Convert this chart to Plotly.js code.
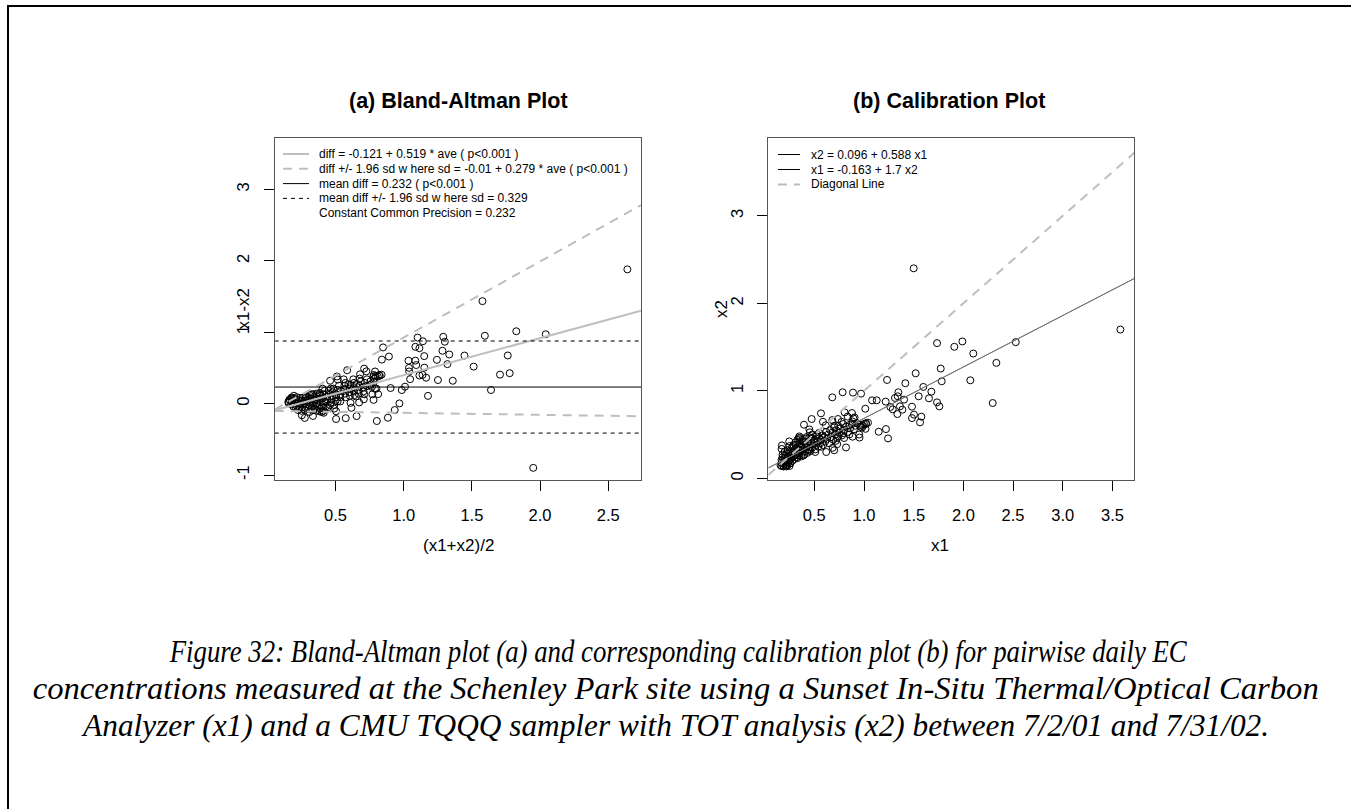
<!DOCTYPE html>
<html><head><meta charset="utf-8">
<script src="https://cdn.plot.ly/plotly-3.0.1.min.js"></script>
<style>body{margin:0;background:#fff}#chart{width:1351px;height:809px}</style>
</head><body><div id="chart"></div>
<script>
// ---- data: x1 (Sunset in-situ), x2 (CMU TQQQ) ----
const x1 = [
 3.58, 1.50, 1.735, 1.99, 1.909, 2.10, 2.527, 2.332, 2.295, 2.07,
 1.772, 1.782, 1.52, 1.232, 1.416, 1.597, 1.678, 1.55, 1.654, 1.735,
 1.758, 1.346, 1.339, 1.312, 1.403, 1.218, 1.265, 1.289, 1.362, 1.386,
 1.483, 1.336, 1.483, 1.503, 1.577, 1.564, 1.148, 1.221, 1.242, 1.081,
 1.128, 1.013, 0.970, 0.889, 0.785, 0.681, 1.040, 1.020, 0.990, 0.965,
 0.952, 0.805, 0.879, 0.893, 0.883, 0.819, 0.567, 0.473, 0.396, 0.450,
 0.587, 0.681, 0.738, 0.852, 0.792, 0.852, 0.913, 0.718, 0.685, 0.174,
 0.248, 0.16, 0.17, 0.17, 0.18, 0.18, 0.19, 0.19, 0.20, 0.20,
 0.21, 0.21, 0.22, 0.22, 0.23, 0.23, 0.24, 0.24, 0.25, 0.25,
 0.26, 0.26, 0.27, 0.27, 0.28, 0.28, 0.29, 0.29, 0.30, 0.30,
 0.31, 0.31, 0.32, 0.32, 0.33, 0.33, 0.34, 0.34, 0.35, 0.35,
 0.36, 0.36, 0.37, 0.37, 0.38, 0.38, 0.39, 0.40, 0.40, 0.41,
 0.41, 0.42, 0.43, 0.43, 0.44, 0.45, 0.45, 0.46, 0.47, 0.48,
 0.48, 0.49, 0.50, 0.51, 0.52, 0.52, 0.53, 0.54, 0.55, 0.55,
 0.56, 0.57, 0.58, 0.59, 0.60, 0.61, 0.62, 0.63, 0.64, 0.65,
 0.66, 0.67, 0.68, 0.69, 0.70, 0.71, 0.72, 0.73, 0.74, 0.75,
 0.76, 0.78, 0.79, 0.80, 0.82, 0.84, 0.86, 0.88, 0.90, 0.93,
 0.96, 0.98, 1.00, 1.02,
 0.171, 0.25, 0.352, 0.455, 0.342, 0.349, 0.20, 0.23, 0.28, 0.31,
 0.38, 0.42, 0.955, 1.015, 0.885, 0.70, 0.73, 0.62, 0.80, 0.74,
 0.775, 0.835, 0.905, 0.70, 0.615, 0.53, 0.47, 0.44, 0.36, 0.27,
 0.33, 0.39, 0.45, 0.51, 0.57, 0.22, 0.25, 0.19, 0.17, 0.21
];
const x2 = [
 1.70, 2.40, 1.545, 1.564, 1.503, 1.426, 1.556, 1.319, 0.860, 1.12,
 1.254, 1.109, 1.20, 1.124, 1.086, 1.044, 0.990, 0.937, 0.914, 0.868,
 0.822, 0.983, 0.937, 0.918, 0.899, 0.876, 0.815, 0.788, 0.822, 0.784,
 0.818, 0.734, 0.688, 0.727, 0.704, 0.639, 0.532, 0.562, 0.455, 0.891,
 0.891, 0.795, 0.967, 0.979, 0.983, 0.925, 0.635, 0.620, 0.600, 0.590,
 0.500, 0.753, 0.746, 0.685, 0.650, 0.352, 0.742, 0.677, 0.612, 0.558,
 0.646, 0.665, 0.677, 0.608, 0.516, 0.501, 0.600, 0.428, 0.348, 0.375,
 0.421, 0.15, 0.18, 0.21, 0.24, 0.27, 0.14, 0.17, 0.20, 0.23,
 0.16, 0.26, 0.19, 0.22, 0.15, 0.28, 0.18, 0.24, 0.21, 0.31,
 0.17, 0.26, 0.23, 0.34, 0.20, 0.29, 0.25, 0.38, 0.22, 0.32,
 0.27, 0.41, 0.24, 0.35, 0.30, 0.44, 0.26, 0.33, 0.28, 0.39,
 0.31, 0.46, 0.25, 0.36, 0.29, 0.42, 0.33, 0.27, 0.38, 0.31,
 0.45, 0.35, 0.29, 0.40, 0.33, 0.37, 0.47, 0.31, 0.41, 0.35,
 0.50, 0.39, 0.44, 0.33, 0.38, 0.48, 0.42, 0.36, 0.46, 0.52,
 0.40, 0.44, 0.49, 0.38, 0.47, 0.42, 0.53, 0.45, 0.50, 0.40,
 0.55, 0.47, 0.52, 0.44, 0.58, 0.50, 0.55, 0.46, 0.60, 0.52,
 0.57, 0.49, 0.62, 0.55, 0.59, 0.53, 0.57, 0.62, 0.56, 0.63,
 0.61, 0.58, 0.62, 0.63,
 0.335, 0.368, 0.422, 0.525, 0.459, 0.478, 0.30, 0.32, 0.36, 0.38,
 0.44, 0.47, 0.465, 0.565, 0.475, 0.32, 0.39, 0.30, 0.46, 0.48,
 0.645, 0.705, 0.695, 0.60, 0.605, 0.50, 0.46, 0.42, 0.36, 0.27,
 0.23, 0.26, 0.32, 0.30, 0.36, 0.135, 0.14, 0.135, 0.14, 0.14
];

// ---- fitted coefficients shown in the legends ----
const baIntercept = -0.121, baSlope = 0.519;   // diff = a + b * ave
const sdIntercept = -0.01,  sdSlope = 0.279;   // sd  = a + b * ave
const meanDiff = 0.232, sdConst = 0.329, zMult = 1.96;
const calIntercept = 0.096, calSlope = 0.588;  // x2 = a + b * x1
const invIntercept = -0.163, invSlope = 1.7;   // x1 = a + b * x2

// ---- tick labels ----
const xTicksA = [0.5, 1.0, 1.5, 2.0, 2.5], xTextA = ["0.5", "1.0", "1.5", "2.0", "2.5"];
const yTicksA = [-1, 0, 1, 2, 3], yTextA = ["-1", "0", "1", "2", "3"];
const xTicksB = [0.5, 1.0, 1.5, 2.0, 2.5, 3.0, 3.5], xTextB = ["0.5", "1.0", "1.5", "2.0", "2.5", "3.0", "3.5"];
const yTicksB = [0, 1, 2, 3], yTextB = ["0", "1", "2", "3"];

const legendA = [
 "diff = -0.121 + 0.519 * ave ( p<0.001 )",
 "diff +/- 1.96 sd w here sd = -0.01 + 0.279 * ave ( p<0.001 )",
 "mean diff = 0.232 ( p<0.001 )",
 "mean diff +/- 1.96 sd w here sd = 0.329",
 "Constant Common Precision = 0.232"
];
const legendB = ["x2 = 0.096 + 0.588 x1", "x1 = -0.163 + 1.7 x2", "Diagonal Line"];
const captionLines = [
 "Figure 32: Bland-Altman plot (a) and corresponding calibration plot (b) for pairwise daily EC",
 "concentrations measured at the Schenley Park site using a Sunset In-Situ Thermal/Optical Carbon",
 "Analyzer (x1) and a CMU TQQQ sampler with TOT analysis (x2) between 7/2/01 and 7/31/02."
];

// ---- derived Bland-Altman quantities ----
const ave = x1.map((v, i) => (v + x2[i]) / 2);
const diff = x1.map((v, i) => v - x2[i]);

// ---- geometry ----
const W = 1351, H = 809;
const P = px => px / W, Q = py => 1 - py / H;
const xrA = [0.054, 2.74], yrA = [-1.07, 3.72];
const xrB = [0.037, 3.72], yrB = [-0.02, 3.89];
const GRAY = '#bebebe';
const FONT = 'Liberation Sans, Arial, sans-serif';
const capCenters = [677.5, 675, 675], capWidths = [1017, 1286, 1186], capRows = [651, 688, 725];

const fitA = xrA.map(a => baIntercept + baSlope * a);
const upA = xrA.map(a => baIntercept + baSlope * a + zMult * (sdIntercept + sdSlope * a));
const loA = xrA.map(a => baIntercept + baSlope * a - zMult * (sdIntercept + sdSlope * a));
const calLine = xrB.map(a => calIntercept + calSlope * a);
const invLine = xrB.map(a => (a - invIntercept) / invSlope);

const traces = [
 {x: ave, y: diff, xaxis: 'x', yaxis: 'y', mode: 'markers', type: 'scatter',
  marker: {symbol: 'circle-open', size: 7, color: '#000', line: {width: 1, color: '#000'}}},
 {x: xrA, y: fitA, xaxis: 'x', yaxis: 'y', mode: 'lines', line: {color: GRAY, width: 2}},
 {x: xrA, y: upA, xaxis: 'x', yaxis: 'y', mode: 'lines', line: {color: GRAY, width: 2, dash: '9px,7px'}},
 {x: xrA, y: loA, xaxis: 'x', yaxis: 'y', mode: 'lines', line: {color: GRAY, width: 2, dash: '9px,7px'}},
 {x: xrA, y: xrA.map(() => meanDiff), xaxis: 'x', yaxis: 'y', mode: 'lines', line: {color: '#000', width: 1}},
 {x: xrA, y: xrA.map(() => meanDiff + zMult * sdConst), xaxis: 'x', yaxis: 'y', mode: 'lines', line: {color: '#000', width: 1, dash: '4px,4px'}},
 {x: xrA, y: xrA.map(() => meanDiff - zMult * sdConst), xaxis: 'x', yaxis: 'y', mode: 'lines', line: {color: '#000', width: 1, dash: '4px,4px'}},
 {x: x1, y: x2, xaxis: 'x2', yaxis: 'y2', mode: 'markers', type: 'scatter',
  marker: {symbol: 'circle-open', size: 7, color: '#000', line: {width: 1, color: '#000'}}},
 {x: xrB, y: calLine, xaxis: 'x2', yaxis: 'y2', mode: 'lines', line: {color: '#777', width: 1}},
 {x: xrB, y: invLine, xaxis: 'x2', yaxis: 'y2', mode: 'lines', line: {color: '#777', width: 1}},
 {x: xrB, y: xrB, xaxis: 'x2', yaxis: 'y2', mode: 'lines', line: {color: GRAY, width: 2, dash: '9px,7px'}}
];

function xAx(dom, rng, tv, tt) {
 return {domain: dom, range: rng, tickmode: 'array', tickvals: tv, ticktext: tt,
  ticks: 'outside', ticklen: 10, tickcolor: '#000', tickwidth: 1, ticklabelstandoff: 10,
  showline: true, mirror: true, linecolor: '#555', linewidth: 1, showgrid: false, zeroline: false,
  tickfont: {family: FONT, size: 16.5, color: '#000'}, fixedrange: true};
}
function yAx(dom, rng, tv, tt) {
 return {domain: dom, range: rng, tickmode: 'array', tickvals: tv, ticktext: tt, tickangle: -90,
  ticks: 'outside', ticklen: 10, tickcolor: '#000', tickwidth: 1, ticklabelstandoff: 8,
  showline: true, mirror: true, linecolor: '#555', linewidth: 1, showgrid: false, zeroline: false,
  tickfont: {family: FONT, size: 16.5, color: '#000'}, fixedrange: true};
}

const shapes = [
 {type: 'line', xref: 'paper', yref: 'paper', x0: P(8), x1: P(8), y0: Q(6), y1: Q(812), line: {color: '#000', width: 2}},
 {type: 'line', xref: 'paper', yref: 'paper', x0: P(7), x1: P(1355), y0: Q(6), y1: Q(6), line: {color: '#000', width: 2}}
];
const annotations = [];
const legAStyle = [
 {color: GRAY, width: 2, dash: 'solid'}, {color: GRAY, width: 2, dash: '9px,7px'},
 {color: '#000', width: 1, dash: 'solid'}, {color: '#000', width: 1, dash: '4px,4px'}, null];
legendA.forEach((t, i) => {
 const py = 154 + i * 14.8;
 if (legAStyle[i]) shapes.push({type: 'line', xref: 'paper', yref: 'paper', x0: P(283), x1: P(309), y0: Q(py), y1: Q(py), line: legAStyle[i]});
 annotations.push({xref: 'paper', yref: 'paper', x: P(317), y: Q(py), xanchor: 'left', yanchor: 'middle', showarrow: false,
  text: t, font: {family: FONT, size: 12, color: '#000'}});
});
const legBStyle = [{color: '#000', width: 1, dash: 'solid'}, {color: '#000', width: 1, dash: 'solid'}, {color: GRAY, width: 2, dash: '9px,7px'}];
legendB.forEach((t, i) => {
 const py = 154.5 + i * 15;
 shapes.push({type: 'line', xref: 'paper', yref: 'paper', x0: P(778), x1: P(800), y0: Q(py), y1: Q(py), line: legBStyle[i]});
 annotations.push({xref: 'paper', yref: 'paper', x: P(809), y: Q(py), xanchor: 'left', yanchor: 'middle', showarrow: false,
  text: t, font: {family: FONT, size: 12, color: '#000'}});
});
annotations.push({xref: 'paper', yref: 'paper', x: P(458), y: Q(101), showarrow: false, xanchor: 'center', yanchor: 'middle',
 text: '<b>(a) Bland-Altman Plot</b>', font: {family: FONT, size: 21.5, color: '#000'}});
annotations.push({xref: 'paper', yref: 'paper', x: P(949), y: Q(101), showarrow: false, xanchor: 'center', yanchor: 'middle',
 text: '<b>(b) Calibration Plot</b>', font: {family: FONT, size: 21.5, color: '#000'}});
annotations.push({xref: 'paper', yref: 'paper', x: P(458), y: Q(557), showarrow: false, text: '(x1+x2)/2', font: {family: FONT, size: 17, color: '#000'}});
annotations.push({xref: 'paper', yref: 'paper', x: P(951), y: Q(557), showarrow: false, text: 'x1', font: {family: FONT, size: 17, color: '#000'}});
annotations.push({xref: 'paper', yref: 'paper', x: P(231), y: Q(309), showarrow: false, textangle: -90, text: 'x1-x2', font: {family: FONT, size: 17, color: '#000'}});
annotations.push({xref: 'paper', yref: 'paper', x: P(721), y: Q(309), showarrow: false, textangle: -90, text: 'x2', font: {family: FONT, size: 17, color: '#000'}});
captionLines.forEach((t, i) => {
 annotations.push({xref: 'paper', yref: 'paper', x: P(capCenters[i]), y: Q(capRows[i]), showarrow: false, xanchor: 'center', yanchor: 'middle',
  text: t, font: {family: 'Liberation Serif, Times New Roman, serif', size: 31, color: '#000', style: 'italic'}});
});

const layout = {
 width: W, height: H, margin: {l: 0, r: 0, t: 0, b: 0}, showlegend: false,
 paper_bgcolor: '#fff', plot_bgcolor: '#fff', font: {family: FONT, color: '#000'},
 xaxis: Object.assign(xAx([P(274.7), P(641)], xrA, xTicksA, xTextA), {anchor: 'y'}),
 yaxis: Object.assign(yAx([Q(480), Q(138)], yrA, yTicksA, yTextA), {anchor: 'x'}),
 xaxis2: Object.assign(xAx([P(768.3), P(1134.3)], xrB, xTicksB, xTextB), {anchor: 'y2'}),
 yaxis2: Object.assign(yAx([Q(480), Q(138)], yrB, yTicksB, yTextB), {anchor: 'x2'}),
 shapes: shapes, annotations: annotations
};
Plotly.newPlot('chart', traces, layout, {staticPlot: true, displayModeBar: false}).then(() => {
 document.querySelectorAll('#chart text.annotation-text').forEach(el => {
  const k = captionLines.indexOf(el.textContent);
  if (k >= 0) {
   el.setAttribute('textLength', capWidths[k]);
   el.setAttribute('lengthAdjust', 'spacingAndGlyphs');
  }
 });
});
</script>
</body></html>
